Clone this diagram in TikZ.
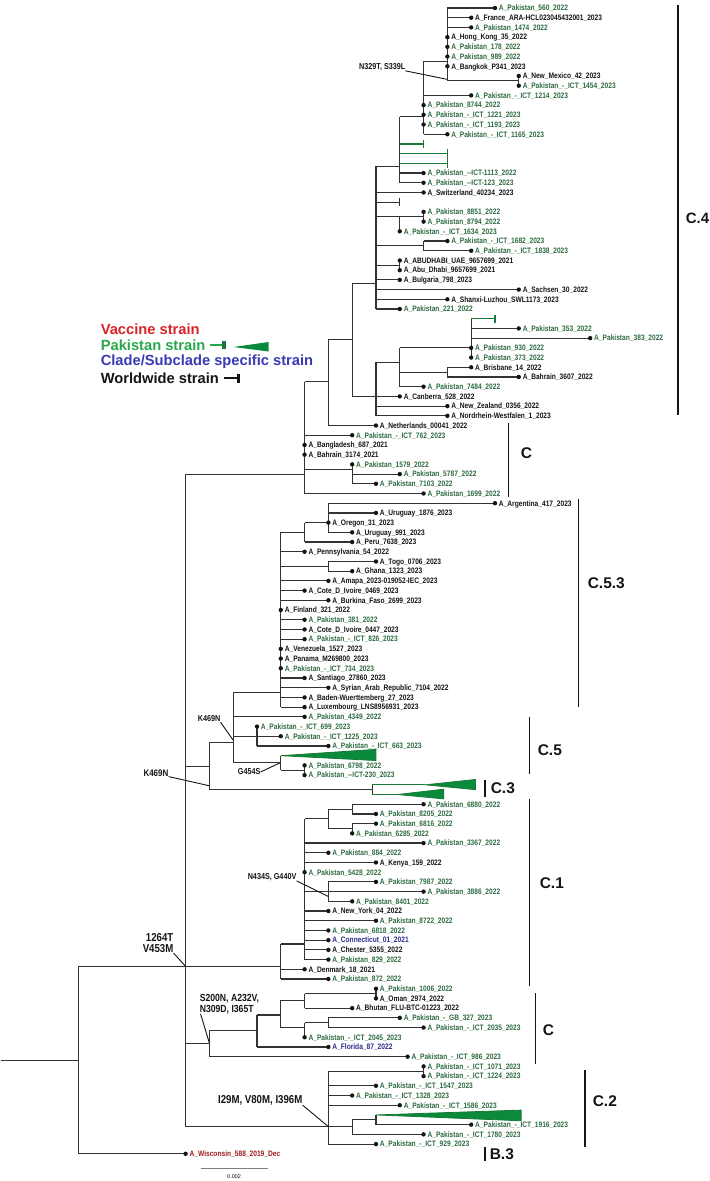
\documentclass[tikz,border=0pt]{standalone}
\usepackage{fontspec}
\setmainfont{Liberation Sans}
\newfontfamily\labf[FakeStretch=0.84]{Liberation Sans}
\definecolor{brc}{HTML}{333333}
\definecolor{pk}{HTML}{2E6B40}
\definecolor{bk}{HTML}{151515}
\definecolor{bl}{HTML}{2B2B8F}
\definecolor{rd}{HTML}{9E1B1B}
\definecolor{mk}{HTML}{187A36}
\definecolor{trg}{HTML}{0B8A3C}
\definecolor{lgr}{HTML}{28A84A}
\definecolor{lrd}{HTML}{D8232A}
\definecolor{lbl}{HTML}{3A3AB5}
\pgfdeclarelayer{back}
\pgfdeclarelayer{bg}
\pgfsetlayers{back,bg,main}
\tikzset{
 br/.style={draw=brc, line width=1.15pt},
 mkline/.style={draw=mk, line width=1.25pt},
 lab/.style={anchor=base west, inner sep=0pt, xshift=3.8pt, yshift=-2.8pt, font=\labf\bfseries\fontsize{7.9}{8}\selectfont},
 mut/.style={inner sep=0pt, font=\labf\bfseries\fontsize{8.6}{9}\selectfont, text=bk},
 bigmut/.style={inner sep=0pt, font=\labf\bfseries\fontsize{11.5}{11.5}\selectfont, text=bk},
 midmut/.style={inner sep=0pt, font=\labf\bfseries\fontsize{10.3}{10.5}\selectfont, text=bk, align=left},
 clbar/.style={draw=bk, line width=1.8pt},
 cllab/.style={anchor=west, inner sep=0pt, font=\bfseries\fontsize{15.5}{16}\selectfont, text=bk},
 leg/.style={anchor=west, inner sep=0pt, font=\bfseries\fontsize{14.7}{15}\selectfont},
 mutln/.style={draw=bk, line width=0.9pt},
}
\newcommand\lf[5]{\coordinate (#1) at (#2,#3);\fill[bk] (#1) circle (2.2pt);\node[lab,text=#4] (#1t) at (#1) {A\_#5};}
\newcommand\hb[2]{\draw[br] (#1 |- #2) -- (#2);}
\newcommand\vb[3]{\draw[br] (#1 |- #2) -- (#1 |- #3);}
\begin{document}
\begin{tikzpicture}[x=1pt,y=-1pt]
\begin{pgfonlayer}{back}
\path[use as bounding box, fill=white] (0,0) rectangle (709,1181);
\end{pgfonlayer}
\begin{scope}[shift={(185,8)}, x=23.8pt, y=-9.71pt]
% leaves
\lf{r0}{13}{0}{pk}{Pakistan\_560\_2022}
\lf{r1}{12}{1}{bk}{France\_ARA-HCL023045432001\_2023}
\lf{r2}{12}{2}{pk}{Pakistan\_1474\_2022}
\lf{r3}{11}{3}{bk}{Hong\_Kong\_35\_2022}
\lf{r4}{11}{4}{pk}{Pakistan\_178\_2022}
\lf{r5}{11}{5}{pk}{Pakistan\_989\_2022}
\lf{r6}{11}{6}{bk}{Bangkok\_P341\_2023}
\lf{r7}{14}{7}{bk}{New\_Mexico\_42\_2023}
\lf{r8}{14}{8}{pk}{Pakistan\_-\_ICT\_1454\_2023}
\lf{r9}{12}{9}{pk}{Pakistan\_-\_ICT\_1214\_2023}
\lf{r10}{10}{10}{pk}{Pakistan\_8744\_2022}
\lf{r11}{10}{11}{pk}{Pakistan\_-\_ICT\_1221\_2023}
\lf{r12}{10}{12}{pk}{Pakistan\_-\_ICT\_1193\_2023}
\lf{r13}{11}{13}{pk}{Pakistan\_-\_ICT\_1165\_2023}
\lf{r17}{10}{17}{pk}{Pakistan\_-{}-ICT-1113\_2022}
\lf{r18}{10}{18}{pk}{Pakistan\_-{}-ICT-123\_2023}
\lf{r19}{10}{19}{bk}{Switzerland\_40234\_2023}
\lf{r21}{10}{21}{pk}{Pakistan\_8851\_2022}
\lf{r22}{10}{22}{pk}{Pakistan\_8794\_2022}
\lf{r23}{9}{23}{pk}{Pakistan\_-\_ICT\_1634\_2023}
\lf{r24}{11}{24}{pk}{Pakistan\_-\_ICT\_1682\_2023}
\lf{r25}{12}{25}{pk}{Pakistan\_-\_ICT\_1838\_2023}
\lf{r26}{9}{26}{bk}{ABUDHABI\_UAE\_9657699\_2021}
\lf{r27}{9}{27}{bk}{Abu\_Dhabi\_9657699\_2021}
\lf{r28}{9}{28}{bk}{Bulgaria\_798\_2023}
\lf{r29}{14}{29}{bk}{Sachsen\_30\_2022}
\lf{r30}{11}{30}{bk}{Shanxi-Luzhou\_SWL1173\_2023}
\lf{r31}{9}{31}{pk}{Pakistan\_221\_2022}
\lf{r33}{14}{33}{pk}{Pakistan\_353\_2022}
\lf{r34}{17}{34}{pk}{Pakistan\_383\_2022}
\lf{r35}{12}{35}{pk}{Pakistan\_930\_2022}
\lf{r36}{12}{36}{pk}{Pakistan\_373\_2022}
\lf{r37}{12}{37}{bk}{Brisbane\_14\_2022}
\lf{r38}{14}{38}{bk}{Bahrain\_3607\_2022}
\lf{r39}{10}{39}{pk}{Pakistan\_7484\_2022}
\lf{r40}{9}{40}{bk}{Canberra\_528\_2022}
\lf{r41}{11}{41}{bk}{New\_Zealand\_0356\_2022}
\lf{r42}{11}{42}{bk}{Nordrhein-Westfalen\_1\_2023}
\lf{r43}{8}{43}{bk}{Netherlands\_00041\_2022}
\lf{r44}{7}{44}{pk}{Pakistan\_-\_ICT\_762\_2023}
\lf{r45}{5}{45}{bk}{Bangladesh\_687\_2021}
\lf{r46}{5}{46}{bk}{Bahrain\_3174\_2021}
\lf{r47}{7}{47}{pk}{Pakistan\_1579\_2022}
\lf{r48}{9}{48}{pk}{Pakistan\_5787\_2022}
\lf{r49}{8}{49}{pk}{Pakistan\_7103\_2022}
\lf{r50}{10}{50}{pk}{Pakistan\_1699\_2022}
\lf{r51}{13}{51}{bk}{Argentina\_417\_2023}
\lf{r52}{8}{52}{bk}{Uruguay\_1876\_2023}
\lf{r53}{6}{53}{bk}{Oregon\_31\_2023}
\lf{r54}{7}{54}{bk}{Uruguay\_991\_2023}
\lf{r55}{7}{55}{bk}{Peru\_7638\_2023}
\lf{r56}{5}{56}{bk}{Pennsylvania\_54\_2022}
\lf{r57}{8}{57}{bk}{Togo\_0706\_2023}
\lf{r58}{7}{58}{bk}{Ghana\_1323\_2023}
\lf{r59}{6}{59}{bk}{Amapa\_2023-019052-IEC\_2023}
\lf{r60}{5}{60}{bk}{Cote\_D\_Ivoire\_0469\_2023}
\lf{r61}{6}{61}{bk}{Burkina\_Faso\_2699\_2023}
\lf{r62}{4}{62}{bk}{Finland\_321\_2022}
\lf{r63}{5}{63}{pk}{Pakistan\_381\_2022}
\lf{r64}{5}{64}{bk}{Cote\_D\_Ivoire\_0447\_2023}
\lf{r65}{5}{65}{pk}{Pakistan\_-\_ICT\_826\_2023}
\lf{r66}{4}{66}{bk}{Venezuela\_1527\_2023}
\lf{r67}{4}{67}{bk}{Panama\_M269800\_2023}
\lf{r68}{4}{68}{pk}{Pakistan\_-\_ICT\_734\_2023}
\lf{r69}{5}{69}{bk}{Santiago\_27860\_2023}
\lf{r70}{6}{70}{bk}{Syrian\_Arab\_Republic\_7104\_2022}
\lf{r71}{5}{71}{bk}{Baden-Wuerttemberg\_27\_2023}
\lf{r72}{5}{72}{bk}{Luxembourg\_LNS8956931\_2023}
\lf{r73}{5}{73}{pk}{Pakistan\_4349\_2022}
\lf{r74}{3}{74}{pk}{Pakistan\_-\_ICT\_699\_2023}
\lf{r75}{4}{75}{pk}{Pakistan\_-\_ICT\_1225\_2023}
\lf{r76}{6}{76}{pk}{Pakistan\_-\_ICT\_663\_2023}
\lf{r78}{5}{78}{pk}{Pakistan\_6798\_2022}
\lf{r79}{5}{79}{pk}{Pakistan\_-{}-ICT-230\_2023}
\lf{r82}{10}{82}{pk}{Pakistan\_6880\_2022}
\lf{r83}{8}{83}{pk}{Pakistan\_8205\_2022}
\lf{r84}{8}{84}{pk}{Pakistan\_6816\_2022}
\lf{r85}{7}{85}{pk}{Pakistan\_6285\_2022}
\lf{r86}{10}{86}{pk}{Pakistan\_3367\_2022}
\lf{r87}{6}{87}{pk}{Pakistan\_884\_2022}
\lf{r88}{8}{88}{bk}{Kenya\_159\_2022}
\lf{r89}{5}{89}{pk}{Pakistan\_5428\_2022}
\lf{r90}{8}{90}{pk}{Pakistan\_7987\_2022}
\lf{r91}{10}{91}{pk}{Pakistan\_3886\_2022}
\lf{r92}{7}{92}{pk}{Pakistan\_8401\_2022}
\lf{r93}{6}{93}{bk}{New\_York\_04\_2022}
\lf{r94}{8}{94}{pk}{Pakistan\_8722\_2022}
\lf{r95}{6}{95}{pk}{Pakistan\_6818\_2022}
\lf{r96}{6}{96}{bl}{Connecticut\_01\_2021}
\lf{r97}{6}{97}{bk}{Chester\_5355\_2022}
\lf{r98}{6}{98}{pk}{Pakistan\_829\_2022}
\lf{r99}{5}{99}{bk}{Denmark\_18\_2021}
\lf{r100}{6}{100}{pk}{Pakistan\_872\_2022}
\lf{r101}{8}{101}{pk}{Pakistan\_1006\_2022}
\lf{r102}{8}{102}{bk}{Oman\_2974\_2022}
\lf{r103}{7}{103}{bk}{Bhutan\_FLU-BTC-01223\_2022}
\lf{r104}{9}{104}{pk}{Pakistan\_-\_GB\_327\_2023}
\lf{r105}{10}{105}{pk}{Pakistan\_-\_ICT\_2035\_2023}
\lf{r106}{5}{106}{pk}{Pakistan\_-\_ICT\_2045\_2023}
\lf{r107}{6}{107}{bl}{Florida\_87\_2022}
\lf{r108}{9.33}{108}{pk}{Pakistan\_-\_ICT\_986\_2023}
\lf{r109}{10}{109}{pk}{Pakistan\_-\_ICT\_1071\_2023}
\lf{r110}{10}{110}{pk}{Pakistan\_-\_ICT\_1224\_2023}
\lf{r111}{8}{111}{pk}{Pakistan\_-\_ICT\_1547\_2023}
\lf{r112}{7}{112}{pk}{Pakistan\_-\_ICT\_1328\_2023}
\lf{r113}{9}{113}{pk}{Pakistan\_-\_ICT\_1586\_2023}
\lf{r115}{12}{115}{pk}{Pakistan\_-\_ICT\_1916\_2023}
\lf{r116}{10}{116}{pk}{Pakistan\_-\_ICT\_1780\_2023}
\lf{r117}{8}{117}{pk}{Pakistan\_-\_ICT\_929\_2023}
\lf{r118}{0}{118}{rd}{Wisconsin\_588\_2019\_Dec}
% markers and collapsed-clade anchors
\coordinate (m14) at (10,14);
\coordinate (m15) at (11,15);
\coordinate (m16) at (11,16);
\coordinate (m20) at (9,20);
\coordinate (m32) at (13,32);
\coordinate (t77) at (4,77);
\coordinate (t80) at (7.85,80);
\coordinate (t81) at (7.85,81);
\coordinate (t114) at (8,114);
% internal nodes
\coordinate (a14) at (14,7.5);
\coordinate (a11) at (11,5.5);
\coordinate (a10) at (10,11.2);
\coordinate (a9) at (9,16.3);
\coordinate (b10) at (10,21.5);
\coordinate (b9) at (9,21.5);
\coordinate (c10) at (10,24.5);
\coordinate (c9) at (9,26.5);
\coordinate (a8) at (8,28.35);
\coordinate (a12) at (12,35);
\coordinate (b11) at (11,37.5);
\coordinate (d9) at (9,36.5);
\coordinate (b8) at (8,40);
\coordinate (a7) at (7,34.1);
\coordinate (a6) at (6,38.5);
\coordinate (b7) at (7,47.5);
\coordinate (a5) at (5,48);
\coordinate (c6) at (6,53);
\coordinate (c5) at (5,54);
\coordinate (d6) at (6,57.5);
\coordinate (a4) at (4,70.5);
\coordinate (a3) at (3,75);
\coordinate (e5) at (5,78.5);
\coordinate (b4) at (4,77.7);
\coordinate (a2) at (2,75.6);
\coordinate (c3n) at (7.85,80.5);
\coordinate (a1) at (1,78.1);
\coordinate (c7) at (7,82.5);
\coordinate (d7) at (7,84.5);
\coordinate (e6) at (6,83.5);
\coordinate (f6) at (6,91);
\coordinate (f5) at (5,96.4);
\coordinate (c4) at (4,98.7);
\coordinate (g8) at (8,101.5);
\coordinate (g5) at (5,102.2);
\coordinate (g6) at (6,104.5);
\coordinate (h5) at (5,105);
\coordinate (d4) at (4,103.7);
\coordinate (b3) at (3,105.3);
\coordinate (b1) at (1,106.6);
\coordinate (h10) at (10,109.5);
\coordinate (e8) at (8,114.5);
\coordinate (e7) at (7,115.2);
\coordinate (c2n) at (6,115.2);
\coordinate (n0) at (0,98.7);
\coordinate (root) at (-4.5,108.4);
\coordinate (stem) at (-7.773,108.4);
% mutation pointers
\coordinate (p329) at (11,7.35);
\coordinate (p469a) at (2,75.4);
\coordinate (p469b) at (1,80.1);
\coordinate (p454) at (4,77.7);
\coordinate (p434) at (6,91.5);
\begin{pgfonlayer}{bg}
\vb{a14}{r7}{r8}
\vb{a11}{r0}{a14}
\hb{a11}{r0}\hb{a11}{r1}\hb{a11}{r2}\hb{a11}{a14}
\vb{a10}{a11}{r13}
\hb{a10}{a11}\hb{a10}{r9}\hb{a10}{r13}
\vb{a9}{a10}{r18}
\hb{a9}{a10}\hb{a9}{r17}\hb{a9}{r18}
\draw[mkline] (a9 |- m14) -- (m14);
\draw[mkline] ([yshift=4pt]m14) -- ([yshift=-4pt]m14);
\draw[mkline] (a9 |- m15) -- (m15);
\draw[mkline] (a9 |- m16) -- (m16);
\draw[mkline] ([yshift=4.5pt]m15) -- ([yshift=-4.5pt]m16);
\vb{b10}{r21}{r22}
\vb{b9}{b10}{r23}
\hb{b9}{b10}
\vb{c10}{r24}{r25}\hb{c10}{r24}\hb{c10}{r25}
\vb{c9}{r26}{r27}
\vb{a8}{a9}{r31}
\hb{a8}{a9}\hb{a8}{r19}\hb{a8}{b9}\hb{a8}{c10}\hb{a8}{c9}\hb{a8}{r28}\hb{a8}{r29}\hb{a8}{r30}\hb{a8}{r31}
\draw[br] (a8 |- m20) -- (m20);
\draw[br] ([yshift=4pt]m20) -- ([yshift=-4pt]m20);
\vb{a12}{m32}{r36}
\draw[mkline] (a12 |- m32) -- (m32);
\draw[mkline] ([yshift=4pt]m32) -- ([yshift=-4pt]m32);
\hb{a12}{r33}\hb{a12}{r34}
\vb{b11}{r37}{r38}\hb{b11}{r37}\hb{b11}{r38}
\vb{d9}{a12}{r39}\hb{d9}{a12}\hb{d9}{b11}\hb{d9}{r39}
\vb{b8}{d9}{r42}\hb{b8}{d9}\hb{b8}{r40}\hb{b8}{r41}\hb{b8}{r42}
\vb{a7}{a8}{b8}\hb{a7}{a8}\hb{a7}{b8}
\vb{a6}{a7}{r43}\hb{a6}{a7}\hb{a6}{r43}
\vb{b7}{r47}{r49}\hb{b7}{r48}\hb{b7}{r49}
\vb{a5}{a6}{r50}\hb{a5}{a6}\hb{a5}{r44}\hb{a5}{b7}\hb{a5}{r50}
\vb{c6}{r51}{r54}\hb{c6}{r51}\hb{c6}{r52}\hb{c6}{r54}
\vb{c5}{c6}{r55}\hb{c5}{c6}\hb{c5}{r55}
\vb{d6}{r57}{r58}\hb{d6}{r57}\hb{d6}{r58}
\vb{a4}{c5}{r72}
\hb{a4}{c5}\hb{a4}{r56}\hb{a4}{d6}\hb{a4}{r59}\hb{a4}{r60}\hb{a4}{r61}\hb{a4}{r63}\hb{a4}{r64}\hb{a4}{r65}\hb{a4}{r69}\hb{a4}{r70}\hb{a4}{r71}\hb{a4}{r72}
\vb{a3}{r74}{r76}\hb{a3}{r75}\hb{a3}{r76}
\vb{e5}{r78}{r79}
\vb{b4}{t77}{e5}\hb{b4}{e5}
\vb{a2}{a4}{b4}\hb{a2}{a4}\hb{a2}{r73}\hb{a2}{a3}\hb{a2}{b4}
\vb{c3n}{t80}{t81}
\vb{a1}{a2}{c3n}\hb{a1}{a2}\hb{a1}{c3n}
\vb{c7}{r82}{r83}\hb{c7}{r82}\hb{c7}{r83}
\vb{d7}{r84}{r85}\hb{d7}{r84}
\vb{e6}{c7}{d7}\hb{e6}{c7}\hb{e6}{d7}
\vb{f6}{r90}{r92}\hb{f6}{r90}\hb{f6}{r91}\hb{f6}{r92}
\vb{f5}{e6}{r98}\hb{f5}{e6}\hb{f5}{r86}\hb{f5}{r87}\hb{f5}{r88}\hb{f5}{f6}\hb{f5}{r93}\hb{f5}{r94}\hb{f5}{r95}\hb{f5}{r96}\hb{f5}{r97}\hb{f5}{r98}
\vb{c4}{f5}{r100}\hb{c4}{f5}\hb{c4}{r99}\hb{c4}{r100}
\vb{g8}{r101}{r102}
\vb{g5}{g8}{r103}\hb{g5}{g8}\hb{g5}{r103}
\vb{g6}{r104}{r105}\hb{g6}{r104}\hb{g6}{r105}
\vb{h5}{g6}{r106}\hb{h5}{g6}
\vb{d4}{g5}{h5}\hb{d4}{g5}\hb{d4}{h5}
\vb{b3}{d4}{r107}\hb{b3}{d4}\hb{b3}{r107}
\vb{b1}{b3}{r108}\hb{b1}{b3}\hb{b1}{r108}
\vb{h10}{r109}{r110}
\vb{e8}{t114}{r115}\hb{e8}{r115}
\vb{e7}{e8}{r116}\hb{e7}{e8}\hb{e7}{r116}
\vb{c2n}{h10}{r117}\hb{c2n}{h10}\hb{c2n}{r111}\hb{c2n}{r112}\hb{c2n}{r113}\hb{c2n}{e7}\hb{c2n}{r117}
\vb{n0}{a5}{c2n}\hb{n0}{a5}\hb{n0}{a1}\hb{n0}{c4}\hb{n0}{b1}\hb{n0}{c2n}
\vb{root}{n0}{r118}\hb{root}{n0}\hb{root}{r118}
\draw[br] (stem) -- (root);
% collapsed clades
\draw[mk, line width=0.8pt, fill=trg] (t77) -- (8,76.35) -- (8,77.5) -- cycle;
\draw[mkline] (t80) -- (10.08,80);
\draw[mk, line width=0.8pt, fill=trg] (10.08,80) -- (12.18,79.45) -- (12.18,80.5) -- cycle;
\draw[mkline] (t81) -- (8.9,81);
\draw[mk, line width=0.8pt, fill=trg] (8.9,81) -- (10.85,80.45) -- (10.85,81.45) -- cycle;
\draw[mk, line width=0.8pt, fill=trg] (t114) -- (14.1,113.5) -- (14.1,114.6) -- cycle;
\end{pgfonlayer}
\end{scope}
% mutation labels
\node[mut, anchor=east] (t329) at (405,67) {N329T, S339L};
\draw[mutln] (t329.south east) -- (p329);
\node[mut, anchor=east] (t469a) at (220,719) {K469N};
\draw[mutln] (t469a.south east) -- (p469a);
\node[mut, anchor=east, font=\labf\bfseries\fontsize{9.5}{10}\selectfont] (t469b) at (168,773) {K469N};
\draw[mutln] (t469b.south east) -- (p469b);
\node[mut, anchor=east] (t454) at (260,772) {G454S};
\draw[mutln] (t454.east) -- (p454);
\node[mut, anchor=east] (t434) at (296,877) {N434S, G440V};
\draw[mutln] (t434.south east) -- (p434);
\node[bigmut, anchor=east, align=right] (t264) at (173,943) {1264T\\V453M};
\draw[mutln] (t264.south east) -- (n0);
\node[midmut, anchor=west] (t200) at (199,1004) {S200N, A232V,\\N309D, I365T};
\draw[mutln] ([xshift=1pt]t200.south west) -- (b1);
\node[bigmut, anchor=east] (t29) at (302,1100) {I29M, V80M, I396M};
\draw[mutln] (t29.south east) -- (c2n);
% clade bars
\draw[clbar] (677.7,5) -- (677.7,415);
\node[cllab, font=\bfseries\fontsize{15}{16}\selectfont] (lc4) at (685,218) {C.4};
\draw[clbar] (508,423) -- (508,497);
\node[cllab] (lc1) at (520,453) {C};
\draw[clbar] (578,499) -- (578,707);
\node[cllab] (lc53) at (587,583) {C.5.3};
\draw[clbar] (529,717) -- (529,774);
\node[cllab] (lc5) at (537,750.5) {C.5};
\draw[clbar] (484.3,780) -- (484.3,797.3);
\node[cllab] (lc3) at (490,788.5) {C.3};
\draw[clbar] (529,799.3) -- (529,985.7);
\node[cllab] (lcc1) at (539,883) {C.1};
\draw[clbar] (535,993) -- (535,1064);
\node[cllab] (lc2c) at (542,1030) {C};
\draw[clbar] (584.5,1069.6) -- (584.5,1147);
\node[cllab] (lcc2) at (592,1101) {C.2};
\draw[clbar] (484.5,1147) -- (484.5,1161);
\node[cllab] (lb3) at (489,1154) {B.3};
% legend
\node[leg, text=lrd] (lv) at (100,329) {Vaccine strain};
\node[leg, text=lgr] (lp) at (100,345) {Pakistan strain};
\node[leg, text=lbl] (lcs) at (100,361.5) {Clade/Subclade specific strain};
\node[leg, text=bk] (lw) at (100,378) {Worldwide strain};
\draw[draw=lgr, line width=1.3pt] ([xshift=4pt]lp.east) -- ([xshift=17pt]lp.east);
\fill[lgr!70!black] ([xshift=16pt,yshift=4pt]lp.east) rectangle ([xshift=20pt,yshift=-4pt]lp.east);
\fill[trg] ([xshift=28pt,yshift=-2pt]lp.east) -- ([xshift=63pt,yshift=3pt]lp.east) -- ([xshift=63pt,yshift=-6.5pt]lp.east) -- cycle;
\draw[draw=bk, line width=1.3pt] ([xshift=5pt]lw.east) -- ([xshift=19pt]lw.east);
\fill[bk] ([xshift=18pt,yshift=4.5pt]lw.east) rectangle ([xshift=21pt,yshift=-4.5pt]lw.east);
% scale bar
\coordinate (sb1) at (200,1168);
\coordinate (sb2) at (267,1168);
\draw[draw=gray, line width=0.9pt] (sb1) -- (sb2);
\node[inner sep=0pt, font=\fontsize{5.5}{6}\selectfont, text=bk] (sbt) at (233.5,1177) {0.002};
\end{tikzpicture}
\end{document}
